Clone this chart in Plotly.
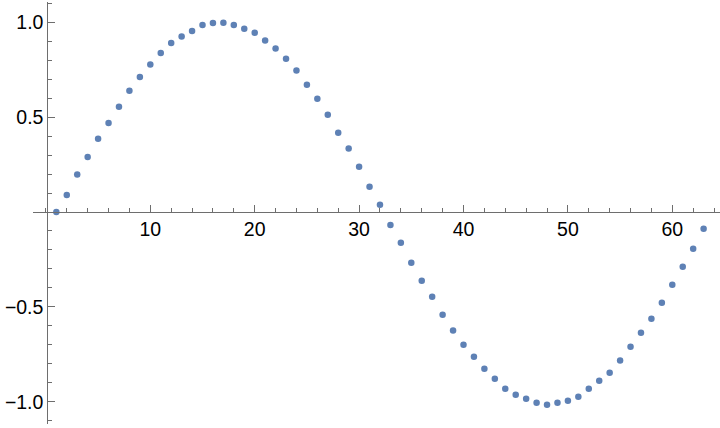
import plotly.graph_objects as go

# Data
x_values = [1, 2, 3, 4, 5, 6, 7, 8, 9, 10,
            11, 12, 13, 14, 15, 16, 17, 18, 19, 20,
            21, 22, 23, 24, 25, 26, 27, 28, 29, 30,
            31, 32, 33, 34, 35, 36, 37, 38, 39, 40,
            41, 42, 43, 44, 45, 46, 47, 48, 49, 50,
            51, 52, 53, 54, 55, 56, 57, 58, 59, 60,
            61, 62, 63]
y_values = [0.00, 0.09, 0.197, 0.29, 0.386, 0.469, 0.555, 0.639, 0.711, 0.777,
            0.838, 0.89, 0.925, 0.953, 0.985, 0.996, 0.997, 0.985, 0.965, 0.945,
            0.903, 0.861, 0.808, 0.745, 0.671, 0.597, 0.513, 0.418, 0.334, 0.239,
            0.133, 0.038, -0.068, -0.162, -0.267, -0.362, -0.446, -0.541, -0.625, -0.699,
            -0.762, -0.826, -0.878, -0.931, -0.963, -0.984, -1.005, -1.015, -1.005, -0.994,
            -0.973, -0.931, -0.889, -0.847, -0.783, -0.710, -0.636, -0.562, -0.478, -0.383,
            -0.288, -0.193, -0.088]

x_tick_values = [10, 20, 30, 40, 50, 60]
x_tick_labels = ["10", "20", "30", "40", "50", "60"]
y_tick_values = [-1.0, -0.5, 0.5, 1.0]
y_tick_labels = ["\u22121.0", "\u22120.5", "0.5", "1.0"]

W, H = 720, 428
AXIS_COLOR = "#6e6e6e"
POINT_COLOR = "#5E81B5"
FONT = dict(family="Liberation Sans, Arial, sans-serif", size=19.5, color="black")

# pixel geometry (from reference)
x0_px, x_scale = 45.9, 10.44      # px of x=0, px per unit
y0_px, y_scale = 212.0, 189.8     # px of y=0, px per unit
xdom_left_px = 32.7
ytop_px, ybot_px = 1.7, 424.0
yaxis_px = 47.3

x_range = [(xdom_left_px - x0_px) / x_scale, (W - x0_px) / x_scale]
y_range = [(y0_px - ybot_px) / y_scale, (y0_px - ytop_px) / y_scale]

fig = go.Figure()
fig.add_trace(go.Scatter(
    x=x_values, y=y_values, mode="markers",
    marker=dict(color=POINT_COLOR, size=6.5, line=dict(width=0)),
    cliponaxis=False, showlegend=False,
))

fig.update_layout(
    width=W, height=H,
    margin=dict(l=0, r=0, t=0, b=0, pad=0),
    paper_bgcolor="white", plot_bgcolor="white",
    font=FONT,
    xaxis=dict(
        domain=[xdom_left_px / W, 1],
        range=x_range,
        anchor="free",
        position=(H - y0_px) / H,
        showline=True, linecolor=AXIS_COLOR, linewidth=1,
        showgrid=False, zeroline=False,
        tickmode="array", tickvals=x_tick_values, ticktext=x_tick_labels,
        ticks="inside", ticklen=7, tickwidth=1, tickcolor=AXIS_COLOR,
        tickfont=FONT,
        minor=dict(dtick=2, tick0=0, ticks="inside", ticklen=4,
                   tickwidth=1, tickcolor=AXIS_COLOR, showgrid=False),
    ),
    yaxis=dict(
        domain=[(H - ybot_px) / H, (H - ytop_px) / H],
        range=y_range,
        anchor="free",
        position=yaxis_px / W,
        showline=True, linecolor=AXIS_COLOR, linewidth=1,
        showgrid=False, zeroline=False,
        tickmode="array", tickvals=y_tick_values, ticktext=y_tick_labels,
        ticks="inside", ticklen=7, tickwidth=1, tickcolor=AXIS_COLOR,
        tickfont=FONT,
        minor=dict(dtick=0.1, tick0=0, ticks="inside", ticklen=4,
                   tickwidth=1, tickcolor=AXIS_COLOR, showgrid=False),
    ),
)

fig.write_html(
    "out.html",
    config={"displayModeBar": False},
    post_script="document.body.style.margin='0';document.body.style.overflow='hidden';",
)
